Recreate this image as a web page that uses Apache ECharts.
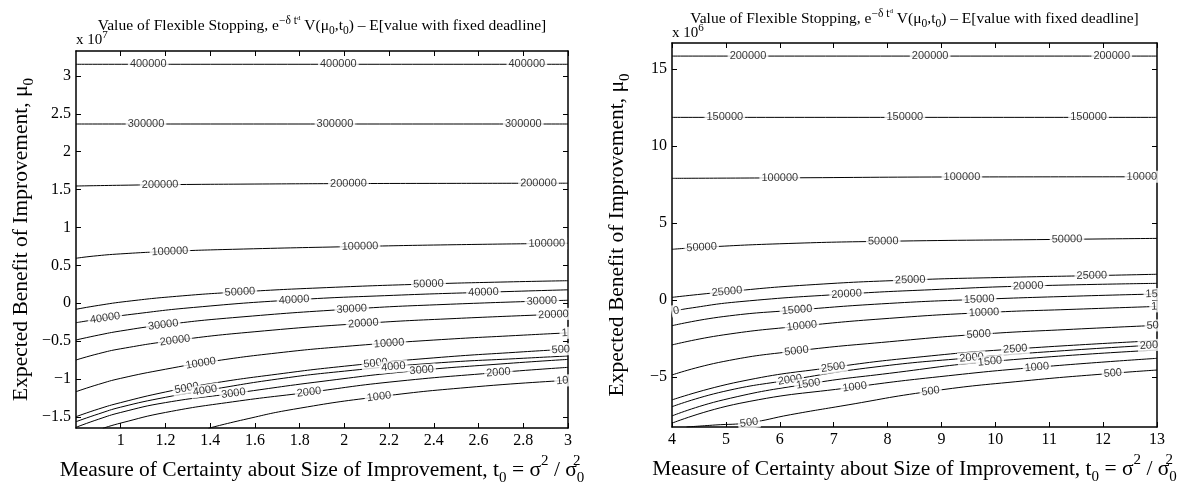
<!DOCTYPE html>
<html><head><meta charset="utf-8">
<script src="https://cdn.jsdelivr.net/npm/echarts@6/dist/echarts.min.js"></script>
<style>html,body{margin:0;padding:0;background:#fff}#c{width:1203px;height:485px}</style>
</head><body><div id="c"></div>
<script>
// ---------------- data ----------------
const leftXTicks = [1, 1.2, 1.4, 1.6, 1.8, 2, 2.2, 2.4, 2.6, 2.8, 3];
const leftYTicks = [-1.5, -1, -0.5, 0, 0.5, 1, 1.5, 2, 2.5, 3];
const rightXTicks = [4, 5, 6, 7, 8, 9, 10, 11, 12, 13];
const rightYTicks = [-5, 0, 5, 10, 15];
const leftExponent = '7';
const rightExponent = '6';

// left panel contour lines [t0, mu0 (x 1e7)]
const L400000 = [[0.8,3.153],[1.9,3.153],[3.0,3.153]];
const L300000 = [[0.8,2.365],[1.9,2.365],[3.0,2.365]];
const L200000 = [[0.8,1.547],[1.0,1.557],[1.2,1.565],[1.6,1.573],[2.0,1.579],[2.5,1.582],[3.0,1.584]];
const L100000 = [[0.8,0.594],[0.877,0.622],[1.0,0.652],[1.22,0.685],[1.5,0.712],[2.07,0.75],[2.5,0.773],[3.0,0.792]];
const L50000 = [[0.8,-0.079],[0.9,-0.028],[1.027,0.025],[1.25,0.092],[1.533,0.15],[1.921,0.207],[2.376,0.255],[2.7,0.28],[3.0,0.298]];
const L40000 = [[0.8,-0.256],[0.93,-0.195],[1.05,-0.145],[1.325,-0.055],[1.775,0.045],[2.219,0.105],[2.622,0.145],[3.0,0.178]];
const L30000 = [[0.8,-0.484],[0.9,-0.42],[1.0,-0.365],[1.19,-0.285],[1.5,-0.19],[2.033,-0.075],[2.45,-0.015],[3.0,0.04]];
const L20000 = [[0.8,-0.748],[0.9,-0.665],[1.0,-0.6],[1.243,-0.49],[1.6,-0.375],[2.085,-0.265],[2.5,-0.2],[3.0,-0.14]];
const L10000 = [[0.8,-1.166],[0.9,-1.07],[1.0,-0.99],[1.2,-0.87],[1.4,-0.77],[1.7,-0.655],[2.0,-0.57],[2.4,-0.485],[2.8,-0.42],[3.0,-0.39]];
const L5000 = [[0.8,-1.496],[0.9,-1.395],[1.0,-1.31],[1.2,-1.17],[1.4,-1.06],[1.7,-0.935],[2.0,-0.83],[2.4,-0.72],[2.8,-0.64],[3.0,-0.605]];
const L4000 = [[0.8,-1.562],[0.9,-1.46],[1.0,-1.37],[1.2,-1.24],[1.4,-1.14],[1.7,-1.0],[2.0,-0.895],[2.4,-0.79],[2.8,-0.725],[3.0,-0.695]];
const L3000 = [[0.8,-1.636],[0.9,-1.53],[1.0,-1.44],[1.2,-1.31],[1.5,-1.19],[1.9,-1.03],[2.3,-0.895],[2.7,-0.8],[3.0,-0.74]];
const L2000 = [[0.92,-1.649],[1.0,-1.58],[1.2,-1.44],[1.5,-1.3],[1.842,-1.174],[2.2,-1.04],[2.7,-0.91],[3.0,-0.845]];
const L1000 = [[1.392,-1.649],[1.55,-1.535],[1.772,-1.398],[2.155,-1.232],[2.592,-1.1],[3.0,-1.016]];

// right panel contour lines [t0, mu0 (x 1e6)]
const R200000 = [[4,15.84],[8.5,15.84],[13,15.84]];
const R150000 = [[4,11.86],[8.5,11.86],[13,11.86]];
const R100000 = [[4,7.9],[6.0,7.93],[9.38,7.99],[13,8.0]];
const R50000 = [[4,3.29],[4.55,3.42],[6,3.65],[7.92,3.81],[11.33,3.94],[13,4.0]];
const R25000 = [[4,0.17],[5.02,0.54],[6.5,0.97],[8.42,1.3],[10.21,1.47],[11.79,1.58],[13,1.67]];
const R20000 = [[4,-0.75],[4.3,-0.55],[5.26,-0.11],[7.24,0.39],[8.97,0.69],[10.61,0.91],[13,1.08]];
const R15000 = [[4,-1.67],[4.95,-1.08],[6.32,-0.65],[8.04,-0.22],[9.7,0.04],[11.5,0.25],[13,0.39]];
const R10000 = [[4,-2.92],[4.95,-2.27],[6.41,-1.69],[8.04,-1.19],[9.79,-0.82],[11.5,-0.6],[13,-0.42]];
const R5000 = [[4,-4.87],[4.95,-4.0],[6.31,-3.31],[8.04,-2.71],[9.69,-2.23],[11.45,-1.9],[13,-1.65]];
const R2500 = [[4,-6.49],[5.26,-5.3],[6.99,-4.37],[8.66,-3.68],[10.37,-3.18],[13,-2.64]];
const R2000 = [[4,-6.93],[4.95,-5.95],[6.19,-5.19],[7.73,-4.37],[9.56,-3.75],[11.45,-3.25],[13,-2.92]];
const R1500 = [[4,-7.53],[4.95,-6.49],[6.53,-5.45],[8.04,-4.76],[9.9,-4.0],[13,-3.25]];
const R1000 = [[4,-8.0],[5.26,-6.71],[7.39,-5.65],[8.97,-4.98],[10.77,-4.37],[13,-3.79]];
const R500 = [[4.27,-8.25],[4.8,-8.12],[5.43,-7.97],[6.2,-7.45],[7.12,-6.9],[8.8,-5.93],[10.52,-5.26],[12.18,-4.76],[13,-4.55]];

// inline labels: [level, t0, visible text]
const leftLabels = [
 [400000,1.123,'400000'],[400000,1.973,'400000'],[400000,2.816,'400000'],
 [300000,1.113,'300000'],[300000,1.958,'300000'],[300000,2.8,'300000'],
 [200000,1.176,'200000'],[200000,2.018,'200000'],[200000,2.868,'200000'],
 [100000,1.22,'100000'],[100000,2.07,'100000'],[100000,2.905,'100000'],
 [50000,1.533,'50000'],[50000,2.376,'50000'],
 [40000,0.93,'40000'],[40000,1.775,'40000'],[40000,2.622,'40000'],
 [30000,1.19,'30000'],[30000,2.033,'30000'],[30000,2.883,'30000'],
 [20000,1.243,'20000'],[20000,2.085,'20000'],[20000,2.935,'20000'],
 [10000,1.358,'10000'],[10000,2.2,'10000'],[10000,2.985,'1'],
 [5000,1.295,'5000'],[5000,2.14,'5000'],[5000,2.968,'500'],
 [4000,1.377,'4000'],[4000,2.219,'4000'],
 [3000,1.504,'3000'],[3000,2.346,'3000'],
 [2000,1.842,'2000'],[2000,2.689,'2000'],
 [1000,2.155,'1000'],[1000,2.975,'10']
];
const rightLabels = [
 [200000,5.41,'200000'],[200000,8.79,'200000'],[200000,12.16,'200000'],
 [150000,4.98,'150000'],[150000,8.32,'150000'],[150000,11.73,'150000'],
 [100000,6.0,'100000'],[100000,9.38,'100000'],[100000,12.72,'10000'],
 [50000,4.55,'50000'],[50000,7.92,'50000'],[50000,11.33,'50000'],
 [25000,5.02,'25000'],[25000,8.42,'25000'],[25000,11.79,'25000'],
 [20000,4.08,'0'],[20000,7.24,'20000'],[20000,10.61,'20000'],
 [15000,6.32,'15000'],[15000,9.7,'15000'],[15000,12.9,'15'],
 [10000,6.41,'10000'],[10000,9.79,'10000'],[10000,12.95,'1'],
 [5000,6.31,'5000'],[5000,9.69,'5000'],[5000,12.92,'50'],
 [2500,6.99,'2500'],[2500,10.37,'2500'],
 [2000,6.19,'2000'],[2000,9.56,'2000'],[2000,12.85,'200'],
 [1500,6.53,'1500'],[1500,9.9,'1500'],
 [1000,7.39,'1000'],[1000,10.77,'1000'],
 [500,5.43,'500'],[500,8.8,'500'],[500,12.18,'500']
];

// ---------------- chart ----------------
const leftLines = {400000:L400000,300000:L300000,200000:L200000,100000:L100000,50000:L50000,40000:L40000,30000:L30000,20000:L20000,10000:L10000,5000:L5000,4000:L4000,3000:L3000,2000:L2000,1000:L1000};
const rightLines = {200000:R200000,150000:R150000,100000:R100000,50000:R50000,25000:R25000,20000:R20000,15000:R15000,10000:R10000,5000:R5000,2500:R2500,2000:R2000,1500:R1500,1000:R1000,500:R500};

const SERIF = "'Liberation Serif','Times New Roman',serif";
const SANS = "'Liberation Sans',Arial,sans-serif";
const fmt = v => (v < 0 ? '\u2212' + Math.abs(v) : String(+v.toFixed(4)));

const G = [
  {left:76, top:51, width:492, height:377, xmin:0.8, xmax:3.0, ymin:-1.645, ymax:3.328, xt:leftXTicks, yt:leftYTicks, ty:25, ey:11},
  {left:672, top:43, width:485, height:384, xmin:4, xmax:13, ymin:-8.25, ymax:16.69, xt:rightXTicks, yt:rightYTicks, ty:24, ey:10}
];

const nameRich = {
  n:{fontFamily:SERIF,fontSize:21.5,color:'#000',lineHeight:32,verticalAlign:'middle'},
  sub:{fontFamily:SERIF,fontSize:15,color:'#000',lineHeight:15,verticalAlign:'bottom'},
  sup:{fontFamily:SERIF,fontSize:15,color:'#000',lineHeight:15,verticalAlign:'top'},
  supz:{fontFamily:SERIF,fontSize:15,color:'#000',lineHeight:15,verticalAlign:'top',width:0,align:'left'}
};
const xName = '{n|Measure of Certainty about Size of Improvement, t}{sub|0}{n| = \u03c3}{sup|2}{n| / \u03c3}{supz|2}{sub|0}';
const yName = '{n|Expected Benefit of Improvement, \u03bc}{sub|0}';

function axisCommon(g, ticks, showLabel) {
  return {
    type:'value',
    axisLine:{show:true,onZero:false,lineStyle:{color:'#000',width:1.5}},
    axisTick:{show:true,inside:true,length:5,customValues:ticks,lineStyle:{color:'#000',width:1}},
    axisLabel:{show:showLabel,customValues:ticks,formatter:fmt,margin:5,color:'#000',fontFamily:SERIF,fontSize:16},
    splitLine:{show:false}
  };
}
const xAxes = [], yAxes = [];
G.forEach((g, gi) => {
  xAxes.push(Object.assign(axisCommon(g, g.xt, true), {gridIndex:gi, position:'bottom', min:g.xmin, max:g.xmax,
    name:xName, nameLocation:'middle', nameGap:15, nameTextStyle:{rich:nameRich}}));
  xAxes.push(Object.assign(axisCommon(g, g.xt, false), {gridIndex:gi, position:'top', min:g.xmin, max:g.xmax}));
  yAxes.push(Object.assign(axisCommon(g, g.yt, true), {gridIndex:gi, position:'left', min:g.ymin, max:g.ymax,
    name:yName, nameLocation:'middle', nameRotate:90, nameGap:39, nameTextStyle:{rich:nameRich}}));
  yAxes.push(Object.assign(axisCommon(g, g.yt, false), {gridIndex:gi, position:'right', min:g.ymin, max:g.ymax}));
});

const series = [];
[leftLines, rightLines].forEach((lines, gi) => {
  Object.keys(lines).forEach(k => {
    series.push({type:'line', xAxisIndex:gi*2, yAxisIndex:gi*2, data:lines[k], smooth:0.5,
      showSymbol:false, symbol:'none', lineStyle:{color:'#000', width:1}, silent:true, clip:true, z:2, animation:false});
  });
});

const titleRich = {
  t:{fontFamily:SERIF,fontSize:15.5,fill:'#000',lineHeight:22,verticalAlign:'middle'},
  sup:{fontFamily:SERIF,fontSize:11.5,fill:'#000',lineHeight:11,verticalAlign:'top'},
  ss:{fontFamily:SERIF,fontSize:7,fill:'#000',lineHeight:17,verticalAlign:'top'},
  sub:{fontFamily:SERIF,fontSize:11.5,fill:'#000',lineHeight:11,verticalAlign:'bottom'}
};
const titleText = '{t|Value of Flexible Stopping, e}{sup|\u2212\u03b4 t}{ss|d}{t| V(\u03bc}{sub|0}{t|,t}{sub|0}{t|) \u2013 E[value with fixed deadline]}';
const expRich = {
  a:{fontFamily:SERIF,fontSize:15,fill:'#000',lineHeight:20,verticalAlign:'middle'},
  e:{fontFamily:SERIF,fontSize:11,fill:'#000',lineHeight:11,verticalAlign:'top'}
};
const graphic = [];
G.forEach((g, gi) => {
  graphic.push({type:'text', x:g.left + g.width/2, y:g.top - g.ty, z:10,
    style:{text:titleText, rich:titleRich, align:'center', verticalAlign:'middle'}});
  graphic.push({type:'text', x:g.left, y:g.top - g.ey, z:9,
    style:{text:'{a|x 10}{e|' + (gi === 0 ? leftExponent : rightExponent) + '}', rich:expRich, align:'left', verticalAlign:'middle'}});
});

const chart = echarts.init(document.getElementById('c'));
const base = {
  animation:false, backgroundColor:'#fff',
  grid:G.map(g => ({left:g.left, top:g.top, width:g.width, height:g.height, containLabel:false, outerBoundsMode:'none'})),
  xAxis:xAxes, yAxis:yAxes, series:series, graphic:graphic
};
chart.setOption(base);

function interpY(pts, x) {
  if (x <= pts[0][0]) { const a = pts[0], b = pts[1]; return a[1] + (b[1]-a[1])*(x-a[0])/(b[0]-a[0]); }
  for (let i = 1; i < pts.length; i++) {
    if (x <= pts[i][0]) { const a = pts[i-1], b = pts[i]; return a[1] + (b[1]-a[1])*(x-a[0])/(b[0]-a[0]); }
  }
  const a = pts[pts.length-2], b = pts[pts.length-1];
  return a[1] + (b[1]-a[1])*(x-a[0])/(b[0]-a[0]);
}
function labelData(labels, lines, gi) {
  const g = G[gi], dx = (g.xmax - g.xmin) * 0.025;
  const finder = {xAxisIndex:gi*2, yAxisIndex:gi*2};
  return labels.map(([lv, x, txt]) => {
    const pts = lines[lv];
    const y = interpY(pts, x);
    const p1 = chart.convertToPixel(finder, [x-dx, interpY(pts, x-dx)]);
    const p2 = chart.convertToPixel(finder, [x+dx, interpY(pts, x+dx)]);
    const ang = Math.atan2(-(p2[1]-p1[1]), p2[0]-p1[0]) * 180 / Math.PI;
    return {value:[x, y], label:{formatter:txt, rotate:ang}};
  });
}
const labelSeries = [leftLabels, rightLabels].map((labs, gi) => ({
  type:'scatter', xAxisIndex:gi*2, yAxisIndex:gi*2, symbol:'circle', symbolSize:1,
  itemStyle:{color:'rgba(0,0,0,0)'}, silent:true, z:5, animation:false,
  data:labelData(labs, gi === 0 ? leftLines : rightLines, gi),
  label:{show:true, position:'inside', color:'#000', fontFamily:SANS, fontSize:11, lineHeight:12,
    backgroundColor:'#fff', padding:[0,2]}
}));
chart.setOption({series:series.concat(labelSeries)});
</script></body></html>
